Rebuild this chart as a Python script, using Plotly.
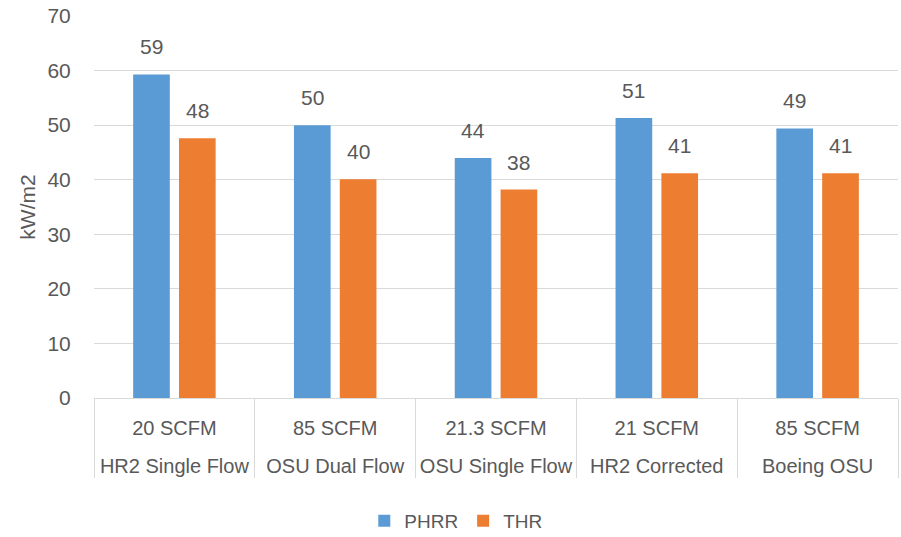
import plotly.graph_objects as go

# Test setups: outer label (apparatus) and inner label (flow rate)
setups = ["HR2 Single Flow", "OSU Dual Flow", "OSU Single Flow", "HR2 Corrected", "Boeing OSU"]
flows = ["20 SCFM", "85 SCFM", "21.3 SCFM", "21 SCFM", "85 SCFM"]

phrr = [59.3, 50.0, 44.0, 51.3, 49.4]
thr = [47.6, 40.1, 38.2, 41.2, 41.2]

BLUE = "#5B9BD5"
ORANGE = "#ED7D31"
TEXT = "#595959"
GRID = "#D9D9D9"
FONT = "Liberation Sans"
BARGAP = 0.43

# a blank leading line opens the gap between the two label rows
x = [["<br>" + s for s in setups], flows]

fig = go.Figure()
fig.add_trace(go.Bar(name="PHRR", x=x, y=phrr, marker_color=BLUE,
                     marker_line_width=0))
fig.add_trace(go.Bar(name="THR", x=x, y=thr, marker_color=ORANGE,
                     marker_line_width=0))

# value labels above each bar; each bar's centre sits a quarter of the group width off the category centre
quarter = (1 - BARGAP) / 4
for series, sign in ((phrr, -1), (thr, 1)):
    for i, v in enumerate(series):
        fig.add_annotation(x=i + sign * quarter, y=v, text=f"{v:.0f}",
                           showarrow=False, yanchor="bottom", yshift=14,
                           font=dict(family=FONT, size=21, color=TEXT))

fig.update_layout(
    width=901, height=537,
    margin=dict(l=94, r=3, t=16, b=139, autoexpand=False),
    paper_bgcolor="white", plot_bgcolor="white",
    barmode="group", bargap=BARGAP, bargroupgap=0.2,
    font=dict(family=FONT, size=21, color=TEXT),
    showlegend=True,
    legend=dict(orientation="h", x=0.45, xanchor="center",
                y=-0.272, yanchor="top",
                font=dict(family=FONT, size=19, color=TEXT), itemwidth=30),
)
fig.update_xaxes(type="multicategory", showline=True, linecolor=GRID, linewidth=1,
                 showdividers=True, dividercolor=GRID, dividerwidth=1,
                 tickangle=0, automargin=False, ticklabelstandoff=12,
                 tickfont=dict(family=FONT, size=20, color=TEXT))
fig.update_yaxes(range=[0, 70], dtick=10, showgrid=True, gridcolor=GRID, gridwidth=1,
                 zeroline=False, ticks="outside", ticklen=18, tickcolor="rgba(0,0,0,0)",
                 automargin=False,
                 tickfont=dict(family=FONT, size=21, color=TEXT),
                 title=dict(text="kW/m2", standoff=6, font=dict(family=FONT, size=21, color=TEXT)))

fig.write_html("out.html")
